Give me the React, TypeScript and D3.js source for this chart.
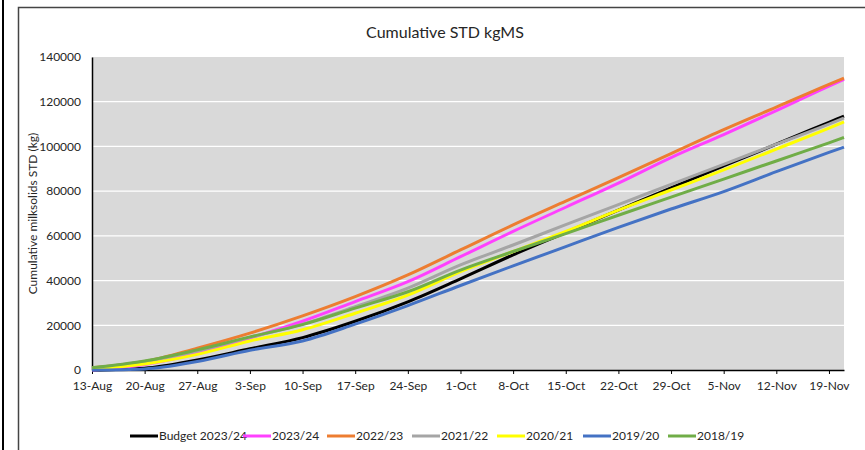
import { useEffect, useRef } from 'react';
import * as d3 from 'd3';

const WEEK_LABELS = [
  '13-Aug', '20-Aug', '27-Aug', '3-Sep', '10-Sep', '17-Sep', '24-Sep', '1-Oct',
  '8-Oct', '15-Oct', '22-Oct', '29-Oct', '5-Nov', '12-Nov', '19-Nov', '21-Nov',
];

const BUDGET_2324 = [0, 800, 4500, 9500, 14500, 21800, 30500, 40800, 51500, 61500, 71500, 81500, 91300, 101000, 110800, 113600];
const S_2324 = [0, 2500, 7500, 14300, 21800, 30600, 39500, 50700, 62000, 72800, 83600, 95000, 105300, 116000, 127000, 130000];
const S_2223 = [1000, 3800, 9800, 16500, 24200, 32800, 42500, 53700, 64900, 75500, 86000, 96800, 107500, 117600, 127800, 130600];
const S_2122 = [800, 3800, 8500, 14600, 20500, 28300, 36600, 47000, 55900, 65000, 74000, 83000, 92000, 101000, 110000, 112700];
const S_2021 = [500, 2700, 7000, 13000, 18000, 25400, 33500, 44000, 53000, 62000, 71500, 80500, 89500, 98800, 108200, 111000];
const S_1920 = [0, 500, 3800, 8800, 13000, 20500, 28800, 37800, 46600, 55200, 63800, 72000, 79800, 88700, 97300, 99700];
const S_1819 = [1000, 4000, 9000, 14800, 20300, 27700, 35000, 44700, 53000, 61000, 69200, 77300, 85400, 93500, 101600, 104000];

const SERIES = [
  { name: 'Budget 2023/24', color: '#000000', values: BUDGET_2324 },
  { name: '2023/24', color: '#FF40FF', values: S_2324 },
  { name: '2022/23', color: '#ED7D31', values: S_2223 },
  { name: '2021/22', color: '#A5A5A5', values: S_2122 },
  { name: '2020/21', color: '#FFFF00', values: S_2021 },
  { name: '2019/20', color: '#4472C4', values: S_1920 },
  { name: '2018/19', color: '#70AD47', values: S_1819 },
];

const Y_TICKS = [0, 20000, 40000, 60000, 80000, 100000, 120000, 140000];

const W = 865;
const H = 450;
const FONT = 'Lato, "Open Sans", sans-serif';

export default function App() {
  const svgRef = useRef<SVGSVGElement>(null);

  useEffect(() => {
    if (!svgRef.current) return;
    const parse = d3.timeParse('%d-%b-%Y');
    const dates = WEEK_LABELS.map(l => parse(`${l}-2023`) as Date);

    const margin = { top: 57, right: 21, bottom: 80, left: 92 };
    const w = W - margin.left - margin.right;
    const h = H - margin.top - margin.bottom;

    const svg = d3.select(svgRef.current);
    svg.selectAll('*').remove();

    svg.append('rect').attr('width', W).attr('height', H).attr('fill', '#fff');
    // frame lines
    svg.append('line').attr('x1', 3).attr('x2', 3).attr('y1', 0).attr('y2', H)
      .attr('stroke', '#000').attr('stroke-width', 2);
    svg.append('path').attr('d', `M18.5,${H} V7.5 H${W}`)
      .attr('fill', 'none').attr('stroke', '#444').attr('stroke-width', 1.5);

    svg.append('text')
      .attr('x', 445).attr('y', 38)
      .attr('text-anchor', 'middle')
      .attr('font-family', FONT).attr('font-size', '16px').attr('fill', '#262626')
      .text('Cumulative STD kgMS');

    const g = svg.append('g').attr('transform', `translate(${margin.left},${margin.top})`);

    const x = d3.scaleTime().domain([dates[0], dates[dates.length - 1]]).range([0, w]);
    const y = d3.scaleLinear().domain([0, 140000]).range([h, 0]);

    g.append('rect').attr('width', w).attr('height', h).attr('fill', '#D9D9D9');

    // grid
    g.append('g')
      .selectAll('line')
      .data(Y_TICKS.slice(1, -1))
      .join('line')
      .attr('x1', 0).attr('x2', w)
      .attr('y1', d => y(d)).attr('y2', d => y(d))
      .attr('stroke', '#fff').attr('stroke-width', 1.2);

    // x axis: weekly ticks from 13-Aug
    const xTicks = d3.range(0, 99, 7).map(k => d3.timeDay.offset(dates[0], k));
    const xAxis = g.append('g')
      .attr('transform', `translate(0,${h})`)
      .call(d3.axisBottom(x).tickValues(xTicks).tickFormat(d3.timeFormat('%-d-%b') as any).tickSize(4).tickSizeOuter(0));
    xAxis.select('.domain').attr('stroke', '#000').attr('stroke-width', 1.5);
    xAxis.selectAll('.tick line').attr('stroke', '#000');
    xAxis.selectAll('text')
      .attr('fill', '#262626').attr('font-size', '12px').attr('font-family', FONT).attr('dy', '1.05em');

    // y axis
    const yAxis = g.append('g')
      .call(d3.axisLeft(y).tickValues(Y_TICKS).tickFormat(d3.format('d')).tickSize(0).tickPadding(11));
    yAxis.select('.domain').attr('stroke', '#000').attr('stroke-width', 1.5);
    yAxis.selectAll('text')
      .attr('fill', '#262626').attr('font-size', '12px').attr('font-family', FONT);

    svg.append('text')
      .attr('transform', `translate(37,${margin.top + h / 2}) rotate(-90)`)
      .attr('text-anchor', 'middle')
      .attr('font-family', FONT).attr('font-size', '12px').attr('fill', '#262626')
      .text('Cumulative milksolids STD (kg)');

    const line = d3.line<number>()
      .x((_, i) => x(dates[i]))
      .y(d => y(d))
      .curve(d3.curveMonotoneX);

    SERIES.forEach(s => {
      g.append('path')
        .datum(s.values)
        .attr('fill', 'none')
        .attr('stroke', s.color)
        .attr('stroke-width', 3)
        .attr('stroke-linejoin', 'round')
        .attr('d', line);
    });

    // legend
    const legendX = [130, 243, 327, 412, 497, 583, 668];
    const legend = svg.append('g').attr('transform', 'translate(0,436)');
    SERIES.forEach((s, i) => {
      legend.append('line')
        .attr('x1', legendX[i]).attr('x2', legendX[i] + 28)
        .attr('y1', 0).attr('y2', 0)
        .attr('stroke', s.color).attr('stroke-width', 3);
      legend.append('text')
        .attr('x', legendX[i] + 29).attr('y', 4)
        .attr('font-family', FONT).attr('font-size', '12px').attr('fill', '#262626')
        .text(s.name);
    });
  }, []);

  return (
    <svg ref={svgRef} width={W} height={H}
      style={{ position: 'absolute', left: 0, top: 0, display: 'block' }} />
  );
}
